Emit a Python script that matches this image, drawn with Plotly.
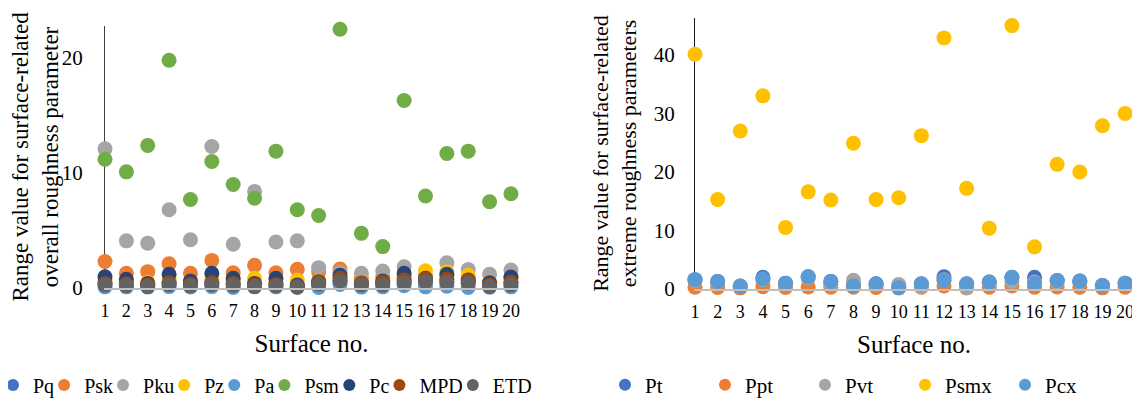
import plotly.graph_objects as go

surfaces = list(range(1, 21))

# Left chart: overall roughness parameters
Pq  = [0.45, 0.40, 0.30, 0.50, 0.35, 0.50, 0.40, 0.35, 0.40, 0.25, 0.35, 0.60, 0.30, 0.35, 0.55, 0.50, 0.55, 0.45, 0.30, 0.45]
Psk = [2.30, 1.28, 1.42, 2.10, 1.28, 2.40, 1.33, 1.97, 1.33, 1.62, 1.40, 1.65, 0.80, 0.90, 0.90, 1.00, 1.00, 0.85, 0.50, 0.90]
Pku = [12.1, 4.1, 3.9, 6.8, 4.2, 12.3, 3.8, 8.4, 4.0, 4.1, 1.77, 1.35, 1.28, 1.48, 1.85, 1.00, 2.20, 1.60, 1.20, 1.56]
Pz  = [0.70, 0.60, 0.50, 0.80, 0.60, 0.80, 0.65, 0.84, 0.60, 0.70, 0.60, 0.90, 0.50, 0.60, 0.90, 1.50, 1.40, 1.10, 0.50, 0.80]
Pa  = [0.10, 0.10, 0.08, 0.12, 0.09, 0.12, 0.05, 0.10, 0.10, 0.06, 0.05, 0.30, 0.08, 0.10, 0.20, 0.10, 0.15, 0.05, 0.06, 0.10]
Psm = [11.2, 10.1, 12.4, 19.8, 7.7, 11.0, 9.0, 7.8, 11.9, 6.8, 6.3, 22.5, 4.75, 3.6, 16.3, 8.0, 11.7, 11.9, 7.5, 8.2]
Pc  = [0.98, 0.75, 0.40, 1.20, 0.60, 1.28, 0.85, 0.40, 0.85, 0.25, 0.55, 1.10, 0.40, 0.60, 1.28, 0.85, 1.20, 0.70, 0.45, 0.95]
MPD = [0.40, 0.35, 0.25, 0.45, 0.30, 0.45, 0.40, 0.25, 0.30, 0.15, 0.50, 0.85, 0.45, 0.50, 0.70, 0.80, 0.75, 0.65, 0.25, 0.50]
ETD = [0.26, 0.20, 0.12, 0.29, 0.17, 0.29, 0.23, 0.12, 0.17, 0.06, 0.32, 0.61, 0.26, 0.26, 0.41, 0.55, 0.46, 0.41, 0.12, 0.26]

# Right chart: extreme roughness parameters
Pt   = [1.6, 1.3, 0.5, 2.0, 1.0, 2.1, 1.3, 0.6, 0.9, 0.3, 0.9, 2.1, 0.9, 1.2, 2.0, 2.0, 1.45, 1.35, 0.6, 1.0]
Ppt  = [0.3, 0.25, 0.2, 0.4, 0.25, 0.35, 0.3, 0.3, 0.25, 0.2, 0.3, 0.5, 0.2, 0.3, 0.5, 0.3, 0.35, 0.3, 0.2, 0.3]
Pvt  = [1.4, 1.1, 0.5, 1.6, 0.9, 1.9, 0.8, 1.5, 0.8, 0.75, 0.45, 1.6, 0.2, 1.0, 1.3, 1.2, 1.2, 1.1, 0.6, 0.9]
Psmx = [40.1, 15.3, 27.0, 33.0, 10.5, 16.6, 15.2, 24.9, 15.3, 15.6, 26.2, 42.9, 17.2, 10.4, 45.0, 7.2, 21.3, 20.0, 27.9, 30.0]
Pcx  = [1.6, 1.3, 0.45, 1.75, 0.98, 2.1, 1.3, 0.5, 0.9, 0.2, 0.85, 1.45, 0.85, 1.2, 1.95, 1.0, 1.45, 1.35, 0.6, 1.0]

left_names = ["Pq", "Psk", "Pku", "Pz", "Pa", "Psm", "Pc", "MPD", "ETD"]
left_series = [Pq, Psk, Pku, Pz, Pa, Psm, Pc, MPD, ETD]
left_colors = ["#4472C4", "#ED7D31", "#A5A5A5", "#FFC000", "#5B9BD5", "#70AD47", "#264478", "#9E480E", "#636363"]

right_names = ["Pt", "Ppt", "Pvt", "Psmx", "Pcx"]
right_series = [Pt, Ppt, Pvt, Psmx, Pcx]
right_colors = ["#4472C4", "#ED7D31", "#A5A5A5", "#FFC000", "#5B9BD5"]

FONT = "Liberation Serif, Times New Roman, serif"
MS = 15

fig = go.Figure()
for name, vals, col in zip(left_names, left_series, left_colors):
    fig.add_trace(go.Scatter(x=surfaces, y=vals, name=name, mode="markers",
                             marker=dict(color=col, size=MS), cliponaxis=False,
                             xaxis="x", yaxis="y", legend="legend"))
for name, vals, col in zip(right_names, right_series, right_colors):
    fig.add_trace(go.Scatter(x=surfaces, y=vals, name=name, mode="markers",
                             marker=dict(color=col, size=MS), cliponaxis=False,
                             xaxis="x2", yaxis="y2", legend="legend2"))

# The page body adds an 8px offset, so the figure is 8px smaller and shifted.
OFF = 8
W, H = 1140 - OFF, 403 - OFF


def px(xp):
    return (xp - OFF) / W


def py(yp):
    return (H - (yp - OFF)) / H


tickfont_x = dict(family=FONT, size=18, color="#000")
tickfont_y = dict(family=FONT, size=21, color="#000")
titlefont = dict(family=FONT, size=25, color="#000")

xcommon = dict(tickmode="array", tickvals=surfaces, ticktext=[str(s) for s in surfaces],
               showgrid=False, zeroline=False, showline=True, linecolor="#BFBFBF", linewidth=1.5,
               ticks="outside", ticklen=6, tickcolor="rgba(0,0,0,0)", tickfont=tickfont_x,
               automargin=False,
               title=dict(text="Surface no.", font=titlefont, standoff=14), fixedrange=True)

fig.update_layout(
    width=W, height=H,
    margin=dict(l=0, r=0, t=0, b=0, autoexpand=False),
    paper_bgcolor="white", plot_bgcolor="white",
    font=dict(family=FONT, color="#000"),
    xaxis=dict(domain=[px(105), px(518)], range=[1, 20.33], anchor="y", **xcommon),
    xaxis2=dict(domain=[px(695), px(1133)], range=[1, 20.35], anchor="y2", **xcommon),
    yaxis=dict(domain=[py(288), py(26)], range=[0, 22.78], anchor="x",
               tickvals=[0, 10, 20], showgrid=False, zeroline=False, showline=True,
               linecolor="#404040", linewidth=1.3, layer="below traces", automargin=False,
               ticks="outside", ticklen=17, tickcolor="rgba(0,0,0,0)", tickfont=tickfont_y,
               title=dict(text="Range value for surface-related<br>overall roughness parameter",
                          font=dict(family=FONT, size=23, color="#000"), standoff=0)),
    yaxis2=dict(domain=[py(289), py(18)], range=[0, 46.3], anchor="x2",
                tickvals=[0, 10, 20, 30, 40], showgrid=False, zeroline=False, showline=True,
                linecolor="#1a1a1a", linewidth=1.3, layer="below traces", automargin=False,
                ticks="outside", ticklen=15, tickcolor="rgba(0,0,0,0)", tickfont=tickfont_y,
                title=dict(text="Range value for surface-related<br>extreme roughness parameters",
                           font=dict(family=FONT, size=22, color="#000"), standoff=10)),
    legend=dict(orientation="h", x=0.0, xanchor="left", y=py(385), yanchor="middle",
                font=dict(family=FONT, size=20, color="#000"), indentation=-15,
                itemsizing="constant", bgcolor="rgba(0,0,0,0)", traceorder="normal"),
    legend2=dict(orientation="h", x=px(618), xanchor="left", y=py(385), yanchor="middle",
                 font=dict(family=FONT, size=21, color="#000"), entrywidth=68,
                 entrywidthmode="pixels", indentation=-13, itemsizing="constant",
                 bgcolor="rgba(0,0,0,0)", traceorder="normal"),
)

fig.write_html("out.html")
